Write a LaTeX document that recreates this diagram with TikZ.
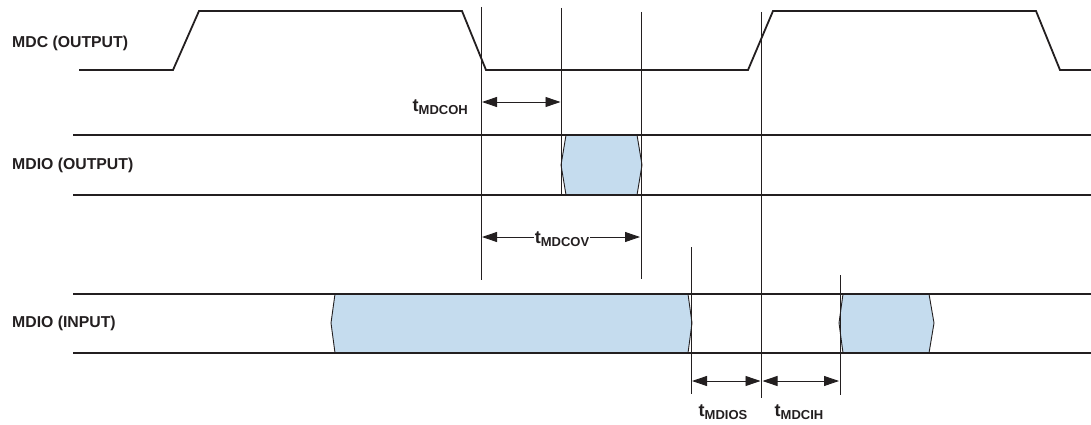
\documentclass[tikz,border=0pt]{standalone}
\usepackage{fontspec}
\setmainfont{Liberation Sans}
\usetikzlibrary{arrows.meta}
\definecolor{ink}{HTML}{231F20}
\definecolor{busfill}{HTML}{C5DCEE}
\newcommand{\tlab}[1]{{\fontsize{18}{18}\selectfont\bfseries t}\raisebox{-3.5pt}{\fontsize{13}{13}\selectfont\bfseries #1}}
\tikzset{
  wave/.style={draw=ink, line width=1.8pt, line join=miter},
  bus/.style={draw=ink, line width=1.8pt},
  vline/.style={draw=ink, line width=0.9pt},
  boxedge/.style={draw=ink, line width=0.9pt, fill=busfill},
  dimarrow/.style={draw=ink, line width=0.9pt, {Triangle[length=15pt,width=10pt]}-{Triangle[length=15pt,width=10pt]}},
  siglabel/.style={anchor=west, inner sep=0pt, font=\fontsize{15.8}{18}\selectfont\bfseries, text=ink},
  tlabel/.style={inner sep=1pt, text=ink}
}
\begin{document}
\begin{tikzpicture}[x=1pt,y=-1pt]
\useasboundingbox (0,0) rectangle (1091,425);
% signal labels
\node[siglabel] (lmdc) at (12,43) {MDC (OUTPUT)};
\node[siglabel] (lmdo) at (12,165) {MDIO (OUTPUT)};
\node[siglabel] (lmdi) at (12,323) {MDIO (INPUT)};
% MDC waveform
\draw[wave] (79,70) -- (173,70) -- (199,11) -- (462,11) -- (486,70) -- (748,70) -- (773,11) -- (1036,11) -- (1060,70) -- (1091,70);
% MDIO output box
\draw[boxedge] (566,135) -- (637,135) -- (642,165) -- (637,195) -- (566,195) -- (561,165) -- cycle;
% MDIO input boxes
\draw[boxedge] (335,294) -- (688,294) -- (692,323) -- (688,353) -- (335,353) -- (331,323) -- cycle;
\draw[boxedge] (843,294) -- (929,294) -- (934,323) -- (929,353) -- (843,353) -- (839,323) -- cycle;
% bus lines
\draw[bus] (73,135) -- (1091,135);
\draw[bus] (73,195) -- (1091,195);
\draw[bus] (73,294) -- (1091,294);
\draw[bus] (73,353) -- (1091,353);
% vertical reference lines
\coordinate (v1t) at (481,7);   \coordinate (v1b) at (481,280);
\coordinate (v2t) at (561.5,8); \coordinate (v2b) at (561.5,195);
\coordinate (v3t) at (641,12);  \coordinate (v3b) at (641,279);
\coordinate (v4t) at (691,247); \coordinate (v4b) at (691,394);
\coordinate (v5t) at (761.5,12);\coordinate (v5b) at (761.5,398);
\coordinate (v6t) at (840,275); \coordinate (v6b) at (840,395);
\draw[vline] (v1t) -- (v1b);
\draw[vline] (v2t) -- (v2b);
\draw[vline] (v3t) -- (v3b);
\draw[vline] (v4t) -- (v4b);
\draw[vline] (v5t) -- (v5b);
\draw[vline] (v6t) -- (v6b);
% dimension arrows
\coordinate (a1l) at (482,102); \coordinate (a1r) at (560.5,102);
\draw[dimarrow] (a1l) -- (a1r);
\node[tlabel, anchor=base east] (lcoh) at (469,111) {\tlab{MDCOH}};
\coordinate (a2l) at (482,237); \coordinate (a2r) at (640,237);
\draw[dimarrow] (a2l) -- (a2r);
\node[tlabel, fill=white, anchor=base] (lcov) at (562,243) {\tlab{MDCOV}};
\coordinate (a3l) at (692,381); \coordinate (a3r) at (760.5,381);
\draw[dimarrow] (a3l) -- (a3r);
\node[tlabel, anchor=base] (lios) at (723,416) {\tlab{MDIOS}};
\coordinate (a4l) at (762.5,381); \coordinate (a4r) at (839,381);
\draw[dimarrow] (a4l) -- (a4r);
\node[tlabel, anchor=base] (lcih) at (799,416) {\tlab{MDCIH}};
\end{tikzpicture}
\end{document}
